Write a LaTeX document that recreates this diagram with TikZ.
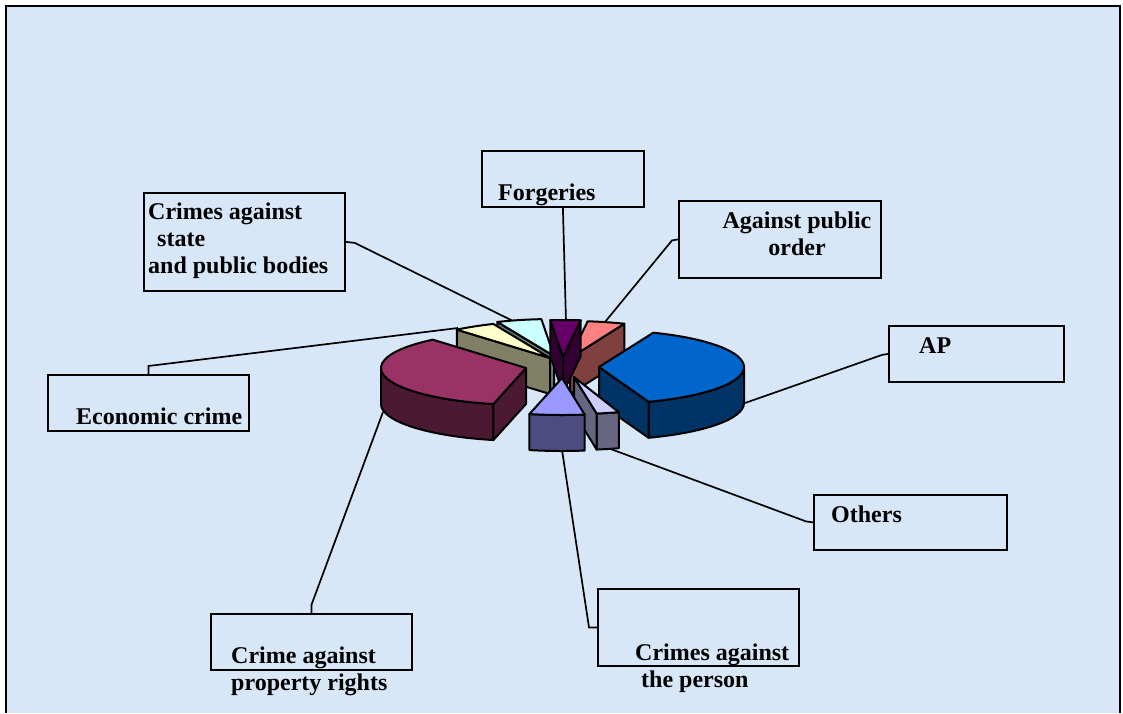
\documentclass[tikz,border=0pt]{standalone}
\usepackage{fontspec}
\setmainfont{Liberation Serif}

\definecolor{bgblue}{RGB}{216,231,248}
\definecolor{apTop}{HTML}{0066CC}\definecolor{apSide}{HTML}{003366}
\definecolor{propTop}{HTML}{993366}\definecolor{propSide}{HTML}{4C1933}
\definecolor{persTop}{HTML}{9999FF}\definecolor{persSide}{HTML}{4C4C80}
\definecolor{othTop}{HTML}{CCCCFF}\definecolor{othSide}{HTML}{666680}
\definecolor{econTop}{HTML}{FFFFCC}\definecolor{econSide}{HTML}{808066}
\definecolor{stateTop}{HTML}{CCFFFF}\definecolor{stateSide}{HTML}{668080}
\definecolor{forgTop}{HTML}{660066}\definecolor{forgSide}{HTML}{330033}
\definecolor{orderTop}{HTML}{FF8080}\definecolor{orderSide}{HTML}{804040}

\tikzset{
  lblbox/.style={draw, line width=1.8pt, inner sep=0pt, anchor=north west},
  lbl/.style={font=\bfseries\fontsize{24}{27}\selectfont, inner sep=0pt, anchor=base west, align=left},
  leader/.style={line width=1.7pt},
  slice/.style={draw, line width=2pt, line join=round},
}

% top of a wedge: apex, start angle, end angle, colour
\newcommand{\slicetop}[4]{\filldraw[slice, fill=#4] (#1) -- ++(#2:145 and 37) arc[start angle=#2, end angle=#3, x radius=145, y radius=37] -- cycle;}
% outer rim of a wedge
\newcommand{\slicerim}[4]{\filldraw[slice, fill=#4] (#1) ++(#2:145 and 37) arc[start angle=#2, end angle=#3, x radius=145, y radius=37] -- ++(0,36) arc[start angle=#3, end angle=#2, x radius=145, y radius=37] -- cycle;}
% cut face of a wedge
\newcommand{\sliceface}[3]{\filldraw[slice, fill=#3] (#1) -- ++(0,36) -- ++(#2:145 and 37) -- ++(0,-36) -- cycle;}

\begin{document}
\begin{tikzpicture}[x=1pt, y=-1pt]
  \useasboundingbox (0,0) rectangle (1123,713);
  \fill[white] (0,0) rectangle (1123,713);
  \fill[bgblue] (6,6) rectangle (1120,713);
  \draw[line width=1.5pt] (6,713) -- (6,6) -- (1120,6) -- (1120,713);

  % label boxes
  \node[lblbox, minimum width=162pt, minimum height=56pt] (forgbox) at (481,150) {};
  \node[lblbox, minimum width=201pt, minimum height=98pt] (statebox) at (143,192) {};
  \node[lblbox, minimum width=202pt, minimum height=77pt] (orderbox) at (678,200) {};
  \node[lblbox, minimum width=175pt, minimum height=56pt] (apbox) at (888,325) {};
  \node[lblbox, minimum width=201pt, minimum height=56pt] (econbox) at (47,374) {};
  \node[lblbox, minimum width=193pt, minimum height=55pt] (othbox) at (813,494) {};
  \node[lblbox, minimum width=201pt, minimum height=56pt] (propbox) at (210,613) {};
  \node[lblbox, minimum width=201pt, minimum height=77pt] (persbox) at (597,588) {};

  % texts (multi-line ones sit on their last line)
  \node[lbl] (forgtxt) at (498,200) {Forgeries};
  \node[lbl] (statetxt) at (148,273) {Crimes against\\\hspace*{9pt}state\\and public bodies};
  \node[lbl, align=center, anchor=base] (ordertxt) at (797,255) {Against public\\order};
  \node[lbl] (aptxt) at (919,353) {AP};
  \node[lbl] (econtxt) at (76,424) {Economic crime};
  \node[lbl] (othtxt) at (831,522) {Others};
  \node[lbl] (proptxt) at (231,690) {Crime against\\property rights};
  \node[lbl] (perstxt) at (635,687) {Crimes against\\\hspace*{6pt}the person};

  % ends of the leaders on the wedges
  \coordinate (forgend) at (566,322);
  \coordinate (stateend) at (513,321);
  \coordinate (orderend) at (605,322);
  \coordinate (apend) at (745,403);
  \coordinate (econend) at (458,328);
  \coordinate (othend) at (608,448);
  \coordinate (persend) at (562,450);
  \coordinate (propend) at (383,412);

  \draw[leader] (forgbox.south) -- (forgend);
  \draw[leader] (statebox.east) -- ++(9,1) -- (stateend);
  \draw[leader] (orderbox.west) -- ++(-6,1) -- (orderend);
  \draw[leader] (apbox.west) -- ++(-6,1) -- (apend);
  \draw[leader] (econbox.north) -- ++(0,-8) -- (econend);
  \draw[leader] (othbox.west) -- ++(-7,-1) -- (othend);
  \draw[leader] (persbox.west) -- ++(-8,0) -- (persend);
  \draw[leader] (propbox.north) -- ++(0,-8) -- (propend);

  % apexes of the wedges
  \coordinate (apB) at (599,367);
  \coordinate (apM) at (526,368);
  \coordinate (apP) at (562,378);
  \coordinate (apO) at (574,377);
  \coordinate (apY) at (550,358);
  \coordinate (apC) at (554,356);
  \coordinate (apU) at (563,357);
  \coordinate (apS) at (570,358);

  % back wedges
  \sliceface{apC}{247}{stateSide}
  \slicetop{apC}{247}{265}{stateTop}
  \sliceface{apY}{230}{econSide}
  \slicetop{apY}{230}{247}{econTop}
  \sliceface{apS}{292}{orderSide}
  \slicetop{apS}{277}{292}{orderTop}
  \sliceface{apU}{265}{forgSide}
  \sliceface{apU}{277}{forgSide}
  \slicetop{apU}{265}{277}{forgTop}
  % large wedges
  \slicerim{apM}{103}{180}{propSide}
  \sliceface{apM}{103}{propSide}
  \slicetop{apM}{103}{230}{propTop}
  \slicerim{apB}{0}{70}{apSide}
  \sliceface{apB}{70}{apSide}
  \slicetop{apB}{-68}{70}{apTop}
  % front wedges
  \slicerim{apO}{72}{81}{othSide}
  \sliceface{apO}{81}{othSide}
  \slicetop{apO}{72}{81}{othTop}
  \slicerim{apP}{81}{103}{persSide}
  \slicetop{apP}{81}{103}{persTop}
\end{tikzpicture}
\end{document}
